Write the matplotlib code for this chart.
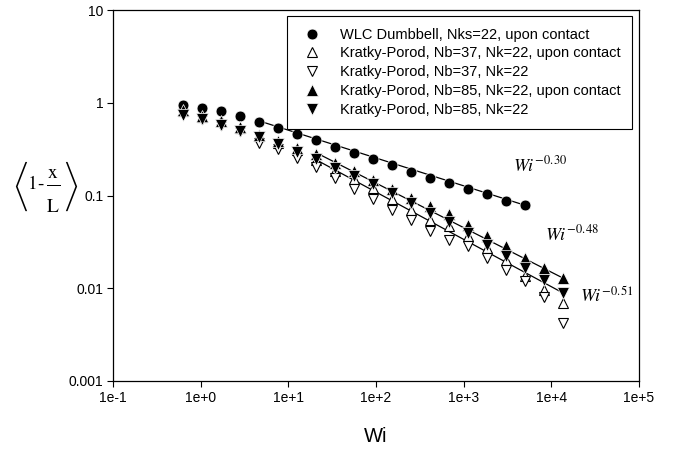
import numpy as np
import matplotlib
matplotlib.use("Agg")
import matplotlib.pyplot as plt
from matplotlib.lines import Line2D

plt.rcParams['font.family'] = ['Liberation Sans', 'DejaVu Sans']
plt.rcParams['mathtext.fontset'] = 'stix'

# ---- data ----
wi = [0.634, 1.04, 1.72, 2.83, 4.66, 7.67, 12.6, 20.8, 34.3, 56.4, 92.9,
      153, 252, 415, 683, 1125, 1852, 3050, 5020, 8270, 13600]
wlc = [0.946, 0.887, 0.809, 0.728, 0.615, 0.537, 0.460, 0.394, 0.333, 0.284,
       0.245, 0.211, 0.180, 0.155, 0.137, 0.118, 0.103, 0.0883, 0.0785]
kp37_contact = [0.82, 0.71, 0.63, 0.535, 0.434, 0.365, 0.306, 0.241, 0.183, 0.149,
                0.121, 0.092, 0.0706, 0.0551, 0.0474, 0.0363, 0.0272, 0.0203,
                0.0134, 0.00964, 0.00692]
kp37 = [0.75, 0.67, 0.58, 0.49, 0.371, 0.314, 0.256, 0.203, 0.155, 0.118,
        0.092, 0.0706, 0.054, 0.0411, 0.0334, 0.0283, 0.0212, 0.0158,
        0.0119, 0.00814, 0.0042]
kp85_contact = [0.830, 0.719, 0.635, 0.543, 0.449, 0.386, 0.328, 0.277, 0.226,
                0.183, 0.146, 0.118, 0.0944, 0.0766, 0.0624, 0.0485, 0.0363,
                0.0283, 0.0212, 0.0165, 0.0129]
kp85 = [0.733, 0.663, 0.575, 0.492, 0.424, 0.356, 0.296, 0.248, 0.199, 0.162,
        0.132, 0.107, 0.0834, 0.0650, 0.0524, 0.0395, 0.0295, 0.0221, 0.0165,
        0.0124, 0.00887]

labels = ["WLC Dumbbell, Nks=22, upon contact",
          "Kratky-Porod, Nb=37, Nk=22, upon contact",
          "Kratky-Porod, Nb=37, Nk=22",
          "Kratky-Porod, Nb=85, Nk=22, upon contact",
          "Kratky-Porod, Nb=85, Nk=22"]

fit_exponents = [-0.30, -0.48, -0.51]
fit_prefactors = [1.01, 1.24, 1.14]
fit_start = [4.66, 20.8, 20.8]
fit_end = [5020, 13600, 13600]
fit_labels = [r'$\mathit{Wi}^{-0.30}$', r'$\mathit{Wi}^{-0.48}$', r'$\mathit{Wi}^{-0.51}$']

xticks = [1e-1, 1e0, 1e1, 1e2, 1e3, 1e4, 1e5]
xticklabels = ["1e-1", "1e+0", "1e+1", "1e+2", "1e+3", "1e+4", "1e+5"]
yticks = [1e-3, 1e-2, 1e-1, 1e0, 1e1]
yticklabels = ["0.001", "0.01", "0.1", "1", "10"]

# ---- figure ----
W, H = 674, 450
fig = plt.figure(figsize=(W / 100, H / 100), dpi=100)
ax = fig.add_axes([113 / W, 1 - 381 / H, (639 - 113) / W, (381 - 10) / H])
ax.set_xscale('log')
ax.set_yscale('log')
ax.set_xlim(1e-1, 1e5)
ax.set_ylim(1e-3, 1e1)

ms = 7.8
series = [
    (wlc, dict(marker='o', color='black', mfc='black', mec='white', mew=0.5, ms=ms)),
    (kp37_contact, dict(marker='^', color='black', mfc='white', mec='black', mew=0.8, ms=ms)),
    (kp37, dict(marker='v', color='black', mfc='white', mec='black', mew=0.8, ms=ms)),
    (kp85_contact, dict(marker='^', color='black', mfc='black', mec='white', mew=0.5, ms=ms + 0.4)),
    (kp85, dict(marker='v', color='black', mfc='black', mec='white', mew=0.5, ms=ms + 0.4)),
]
handles = []
for (vals, st), lab in zip(series, labels):
    ax.plot(wi[:len(vals)], vals, linestyle='none', zorder=3, **st)
    handles.append(Line2D([], [], linestyle='none', label=lab, **st))

for b, a, x0, x1 in zip(fit_exponents, fit_prefactors, fit_start, fit_end):
    xs = np.array([x0, x1])
    ax.plot(xs, a * xs ** b, color='black', lw=0.9, zorder=2)

ax.set_xticks(xticks)
ax.set_xticklabels(xticklabels)
ax.set_yticks(yticks)
ax.set_yticklabels(yticklabels)
ax.minorticks_off()
ax.tick_params(axis='both', which='major', direction='out', length=4, width=0.8,
               labelsize=10, pad=3, colors='black')
for s in ax.spines.values():
    s.set_linewidth(0.9)
    s.set_color('black')

leg = fig.legend(handles=handles, loc='upper right',
                 bbox_to_anchor=(632 / W, 1 - 16 / H), fontsize=10.5,
                 frameon=True, fancybox=False, edgecolor='black',
                 framealpha=1, borderpad=0.8, labelspacing=0.33,
                 handlelength=1.75, handletextpad=1.04, borderaxespad=0)
leg.get_frame().set_linewidth(0.8)

# fit annotations
ann_pos = [(513, 171), (545, 240), (580, 302)]
for (px, py), t in zip(ann_pos, fit_labels):
    fig.text(px / W, 1 - py / H, t, fontsize=13, ha='left', va='baseline')

# axis labels
fig.text(376 / W, 1 - 436 / H, "Wi", fontsize=14.5, ha='center', va='center')
ylab = (r'$\left\langle 1\text{-}\,\dfrac{\overset{\ }{\overset{\ }{\underset{\ }{\mathrm{x}}}}}'
        r'{\overset{\ }{\overset{\ }{\overset{\ }{\mathrm{L}}}}}\,\right\rangle$')
fig.text(46 / W, 1 - 186 / H, ylab, fontsize=14, ha='center', va='center')

fig.savefig("out.png", dpi=100)
